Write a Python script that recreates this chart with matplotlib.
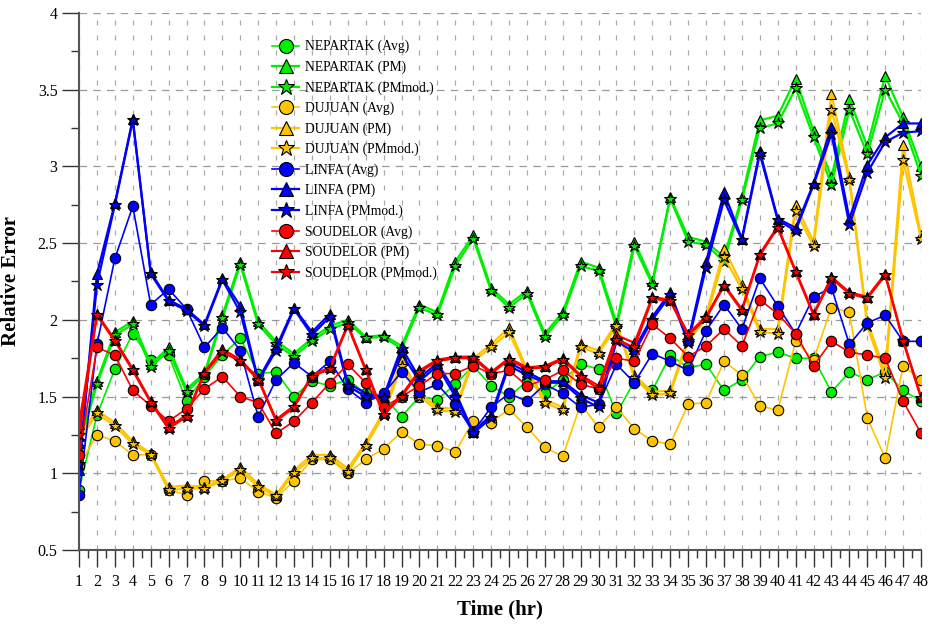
import matplotlib
matplotlib.use('Agg')
import matplotlib.pyplot as plt
import numpy as np
from matplotlib.ticker import MultipleLocator

plt.rcParams['font.family'] = ['Liberation Serif', 'DejaVu Serif']

hours = np.arange(1, 49)

# NEPARTAK
nep_avg = [0.89, 1.38, 1.68, 1.91, 1.74, 1.77, 1.47, 1.63, 1.77, 1.88, 1.65, 1.66, 1.50, 1.60, 1.57, 1.61,
           1.52, 1.50, 1.37, 1.50, 1.48, 1.58, 1.70, 1.57, 1.50, 1.60, 1.52, 1.61, 1.71, 1.68, 1.39, 1.60,
           1.54, 1.77, 1.69, 1.71, 1.54, 1.61, 1.76, 1.79, 1.75, 1.75, 1.53, 1.66, 1.61, 1.66, 1.54, 1.47]
nep_pm = [1.20, 1.60, 1.92, 1.99, 1.71, 1.82, 1.55, 1.65, 2.03, 2.38, 1.99, 1.86, 1.78, 1.88, 1.96, 2.00,
          1.89, 1.90, 1.83, 2.10, 2.05, 2.38, 2.55, 2.21, 2.10, 2.19, 1.91, 2.05, 2.38, 2.34, 1.98, 2.51,
          2.25, 2.80, 2.54, 2.51, 2.41, 2.80, 3.30, 3.33, 3.57, 3.23, 2.93, 3.44, 3.13, 3.59, 3.32, 3.00]
nep_pmm = [1.17, 1.58, 1.90, 1.97, 1.69, 1.80, 1.53, 1.64, 2.01, 2.36, 1.97, 1.84, 1.76, 1.86, 1.94, 1.98,
           1.88, 1.89, 1.81, 2.08, 2.03, 2.35, 2.53, 2.19, 2.08, 2.17, 1.89, 2.03, 2.35, 2.32, 1.95, 2.48,
           2.23, 2.79, 2.51, 2.49, 2.38, 2.78, 3.25, 3.28, 3.51, 3.19, 2.88, 3.37, 3.08, 3.50, 3.28, 2.94]

# DUJUAN
duj_avg = [1.05, 1.25, 1.21, 1.12, 1.12, 0.89, 0.86, 0.95, 0.95, 0.97, 0.88, 0.84, 0.95, 1.09, 1.09, 1.00,
           1.09, 1.16, 1.27, 1.19, 1.18, 1.14, 1.34, 1.33, 1.42, 1.30, 1.17, 1.11, 1.45, 1.30, 1.43, 1.29,
           1.21, 1.19, 1.45, 1.46, 1.73, 1.64, 1.44, 1.41, 1.86, 1.74, 2.08, 2.05, 1.36, 1.10, 1.70, 1.61]
duj_pm = [1.24, 1.41, 1.33, 1.21, 1.13, 0.91, 0.92, 0.91, 0.96, 1.04, 0.93, 0.86, 1.02, 1.12, 1.12, 1.03,
          1.20, 1.40, 1.74, 1.52, 1.43, 1.42, 1.75, 1.84, 1.95, 1.68, 1.48, 1.43, 1.84, 1.80, 1.98, 1.64,
          1.53, 1.54, 1.88, 2.03, 2.46, 2.23, 1.94, 1.94, 2.75, 2.51, 3.47, 2.93, 1.99, 1.66, 3.14, 2.55]
duj_pmm = [1.21, 1.39, 1.31, 1.19, 1.12, 0.89, 0.90, 0.90, 0.95, 1.02, 0.91, 0.85, 1.00, 1.10, 1.10, 1.01,
           1.18, 1.38, 1.70, 1.50, 1.41, 1.40, 1.73, 1.82, 1.92, 1.66, 1.46, 1.41, 1.82, 1.78, 1.96, 1.62,
           1.51, 1.52, 1.86, 2.01, 2.41, 2.20, 1.92, 1.91, 2.71, 2.48, 3.37, 2.91, 1.96, 1.62, 3.04, 2.53]

# LINFA
lin_avg = [0.86, 1.84, 2.40, 2.74, 2.10, 2.20, 2.07, 1.82, 1.95, 1.80, 1.37, 1.61, 1.72, 1.63, 1.73, 1.55,
           1.46, 1.52, 1.66, 1.53, 1.58, 1.45, 1.27, 1.43, 1.52, 1.47, 1.58, 1.52, 1.43, 1.45, 1.71, 1.59,
           1.78, 1.73, 1.67, 1.93, 2.10, 1.94, 2.27, 2.09, 1.91, 2.15, 2.21, 1.84, 1.98, 2.03, 1.86, 1.86]
lin_pm = [1.02, 2.30, 2.76, 3.31, 2.31, 2.13, 2.07, 1.97, 2.27, 2.09, 1.61, 1.82, 2.08, 1.92, 2.04, 1.59,
          1.52, 1.50, 1.82, 1.62, 1.72, 1.53, 1.27, 1.38, 1.72, 1.66, 1.60, 1.60, 1.51, 1.46, 1.88, 1.81,
          2.02, 2.18, 1.87, 2.38, 2.83, 2.53, 3.10, 2.66, 2.60, 2.89, 3.26, 2.66, 3.01, 3.19, 3.28, 3.28]
lin_pmm = [1.06, 2.23, 2.75, 3.30, 2.30, 2.12, 2.06, 1.96, 2.26, 2.05, 1.60, 1.80, 2.07, 1.90, 2.02, 1.57,
           1.50, 1.49, 1.78, 1.60, 1.70, 1.50, 1.26, 1.36, 1.70, 1.64, 1.59, 1.59, 1.49, 1.43, 1.86, 1.79,
           2.00, 2.16, 1.85, 2.34, 2.78, 2.52, 3.08, 2.65, 2.58, 2.88, 3.21, 2.62, 2.96, 3.16, 3.22, 3.23]

# SOUDELOR
sou_avg = [1.12, 1.82, 1.77, 1.54, 1.44, 1.34, 1.42, 1.55, 1.63, 1.50, 1.46, 1.26, 1.34, 1.46, 1.59, 1.71,
           1.59, 1.43, 1.50, 1.57, 1.65, 1.65, 1.70, 1.65, 1.67, 1.57, 1.61, 1.67, 1.58, 1.55, 1.75, 1.73,
           1.97, 1.88, 1.76, 1.83, 1.94, 1.83, 2.13, 2.04, 1.91, 1.70, 1.86, 1.79, 1.77, 1.75, 1.47, 1.26]
sou_pm = [1.32, 2.04, 1.87, 1.68, 1.47, 1.30, 1.38, 1.66, 1.81, 1.74, 1.62, 1.35, 1.44, 1.64, 1.69, 1.97,
          1.68, 1.39, 1.51, 1.67, 1.74, 1.76, 1.76, 1.66, 1.75, 1.69, 1.70, 1.75, 1.64, 1.57, 1.90, 1.85,
          2.15, 2.13, 1.91, 2.02, 2.23, 2.07, 2.43, 2.61, 2.32, 2.04, 2.28, 2.18, 2.15, 2.30, 1.87, 1.50]
sou_pmm = [1.25, 2.03, 1.86, 1.67, 1.46, 1.29, 1.37, 1.65, 1.79, 1.73, 1.61, 1.34, 1.43, 1.63, 1.68, 1.96,
           1.67, 1.38, 1.50, 1.66, 1.73, 1.75, 1.75, 1.65, 1.74, 1.68, 1.69, 1.74, 1.63, 1.55, 1.87, 1.82,
           2.14, 2.12, 1.90, 2.01, 2.22, 2.06, 2.42, 2.60, 2.31, 2.03, 2.27, 2.17, 2.14, 2.29, 1.86, 1.49]

storms = [
    ("NEPARTAK", "#00ee00", nep_avg, nep_pm, nep_pmm),
    ("DUJUAN", "#ffc400", duj_avg, duj_pm, duj_pmm),
    ("LINFA", "#0000ff", lin_avg, lin_pm, lin_pmm),
    ("SOUDELOR", "#ff0000", sou_avg, sou_pm, sou_pmm),
]

fig = plt.figure(figsize=(9.31, 6.24), dpi=100)
ax = fig.add_axes([0.0849, 0.1186, 0.9044, 0.8606])

for name, col, avg, pm, pmm in storms:
    ax.plot(hours, avg, color=col, lw=1.2, marker='o', ms=7.5, mec='black', mew=0.8,
            label=f'{name} (Avg)')
    ax.plot(hours, pm, color=col, lw=1.6, marker='^', ms=7.5, mec='black', mew=0.8,
            label=f'{name} (PM)')
    ax.plot(hours, pmm, color=col, lw=1.6, marker='*', ms=9, mec='black', mew=0.8,
            label=f'{name} (PMmod.)')

ax.set_xlim(1, 48)
ax.set_ylim(0.5, 4)
ax.set_xticks(hours)
ax.xaxis.set_minor_locator(MultipleLocator(0.5))
ax.set_yticks(np.arange(0.5, 4.01, 0.5))
ax.set_yticklabels(['0.5', '1', '1.5', '2', '2.5', '3', '3.5', '4'])
ax.yaxis.set_minor_locator(MultipleLocator(0.25))
ax.tick_params(which='major', direction='out', length=12, width=1, labelsize=11.5, color='#333333')
ax.tick_params(which='minor', direction='out', length=6, width=1, color='#333333')
ax.tick_params(axis='x', pad=5)

ax.xaxis.grid(True, which='major', linestyle=(0, (4, 8)), color='#aaaaaa', lw=0.9)
ax.yaxis.grid(True, which='major', linestyle=(0, (6, 5)), color='#999999', lw=0.9)
ax.set_axisbelow(True)

for s in ['top', 'right']:
    ax.spines[s].set_visible(False)
for s in ['left', 'bottom']:
    ax.spines[s].set_color('#555555')
    ax.spines[s].set_linewidth(1.5)

ax.set_xlabel('Time (hr)', fontsize=15, fontweight='bold', labelpad=7)
ax.set_ylabel('Relative Error', fontsize=15, fontweight='bold', labelpad=12)

ax.legend(loc='upper left', bbox_to_anchor=(272 / 931, 1 - 40 / 624), bbox_transform=fig.transFigure,
          frameon=False, fontsize=9.8, markerscale=1.35, handlelength=2.0, handletextpad=0.4,
          labelspacing=0.52, borderpad=0, borderaxespad=0)

plt.savefig('out.png', dpi=100)
